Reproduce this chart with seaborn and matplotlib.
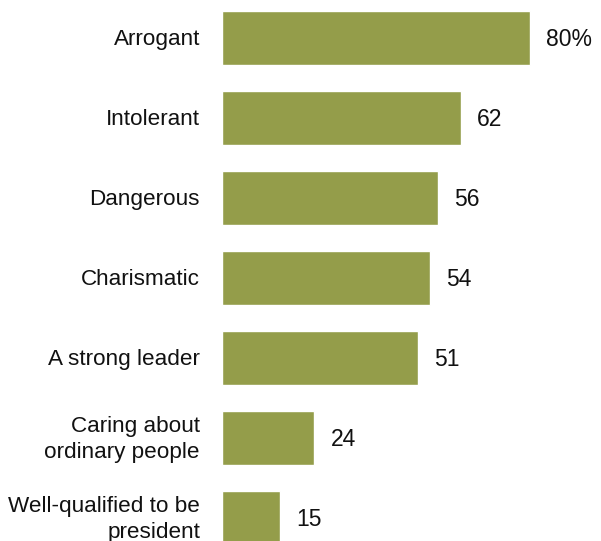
import pandas as pd
import matplotlib.pyplot as plt
import seaborn as sns

# Share describing the candidate with each trait (%)
traits = [
    "Arrogant",
    "Intolerant",
    "Dangerous",
    "Charismatic",
    "A strong leader",
    "Caring about\nordinary people",
    "Well-qualified to be\npresident",
]
values = [80, 62, 56, 54, 51, 24, 15]
value_labels = ["80%", "62", "56", "54", "51", "24", "15"]

df = pd.DataFrame({"trait": traits, "value": values})

sns.set_style("white")
plt.rcParams["font.family"] = ["Liberation Sans", "DejaVu Sans"]

fig = plt.figure(figsize=(6.01, 5.41), dpi=100)
ax = fig.add_axes([222 / 601, 0, 379 / 601, 1])

sns.barplot(data=df, x="value", y="trait", order=traits, color="#949d4a",
            saturation=1, width=0.675, ax=ax)

# 3.85 px per point, 80 px between bars
ax.set_xlim(0, 379 / 3.85)
ax.set_ylim((541 - 38) / 80, -38 / 80)

for i, (v, lab) in enumerate(zip(values, value_labels)):
    ax.text(v + 16 / 3.85, i + 0.02, lab, va="center", ha="left",
            fontsize=16.5, color="#111111")

for i, t in enumerate(traits):
    ax.text(-22 / 3.85, i + 0.02, t, va="center", ha="right", fontsize=16.2,
            color="#111111", linespacing=1.3)

ax.set_yticks([])
ax.set_xticks([])
ax.set_xlabel("")
ax.set_ylabel("")
sns.despine(ax=ax, left=True, bottom=True)

fig.savefig("out.png", dpi=100)
